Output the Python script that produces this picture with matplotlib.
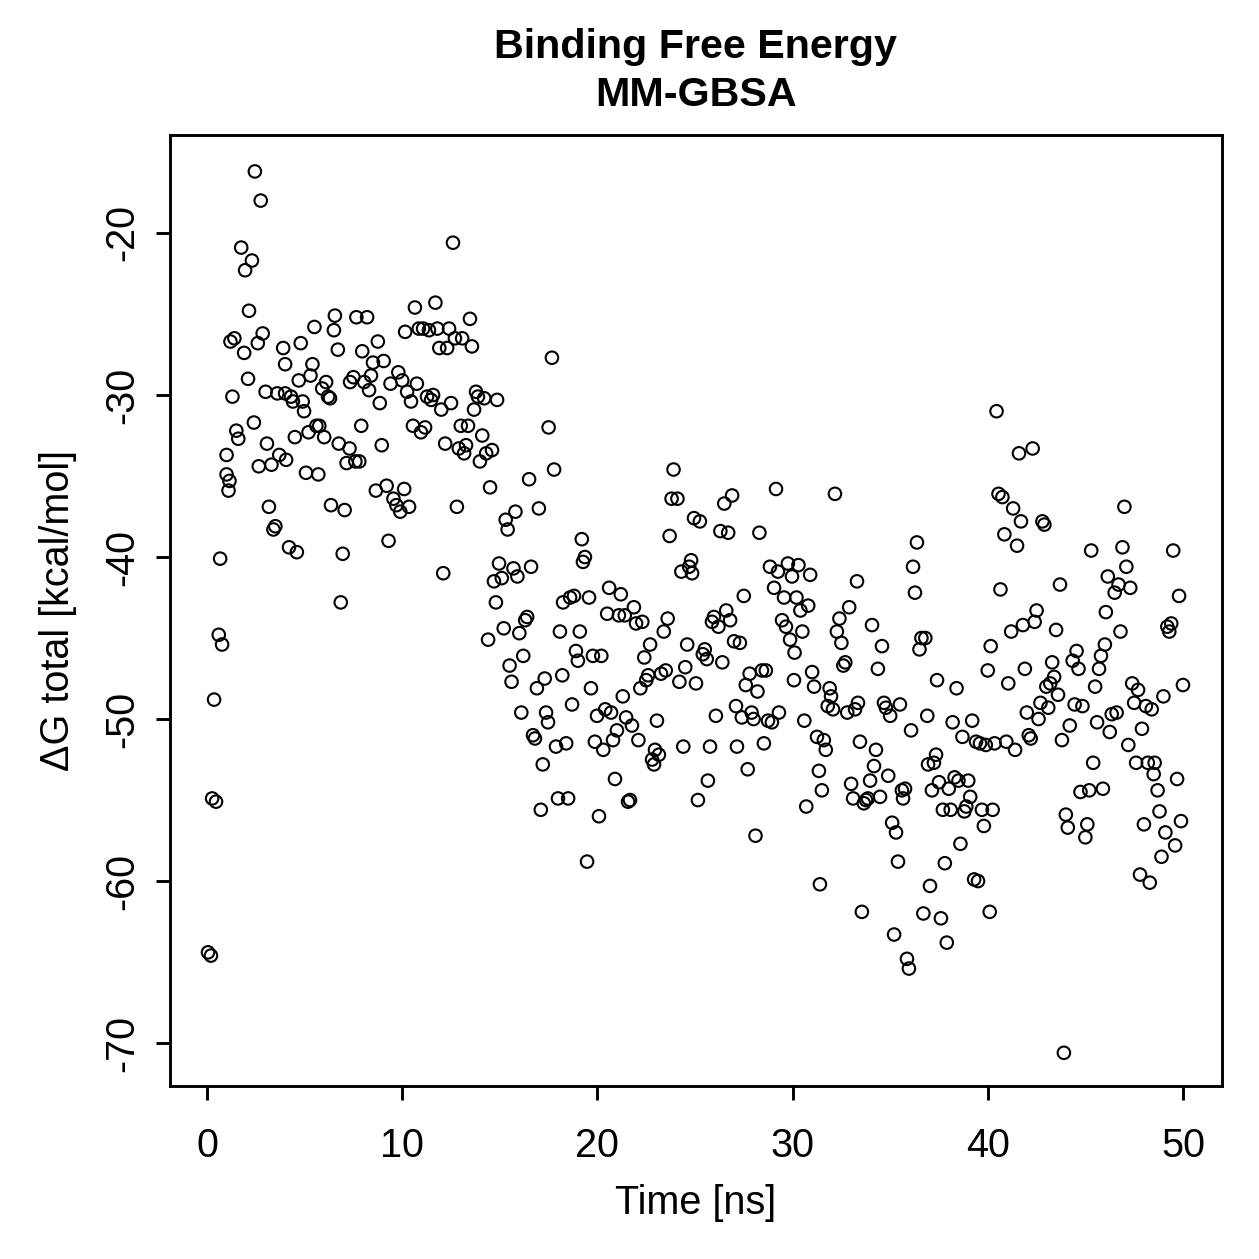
import numpy as np
import matplotlib
matplotlib.use("Agg")
import matplotlib.pyplot as plt

plt.rcParams['font.family'] = ['Liberation Sans', 'DejaVu Sans']

# time (ns) and total binding free energy (kcal/mol)
time_ns = [
    0.05, 0.2, 0.26, 0.46, 0.36, 0.6, 0.77, 0.67,
    1.0, 1.1, 1.15, 1.0, 1.2, 1.4, 1.3, 1.5, 1.6, 1.75, 1.9, 1.95,
    2.1, 2.15, 2.3, 2.4, 2.45, 2.6, 2.65, 2.75, 2.85, 3.0, 3.07, 3.17,
    3.3, 3.4, 3.5, 3.6, 3.7, 3.9, 4.0, 4.0, 4.05, 4.2, 4.3, 4.4, 4.5,
    4.6, 4.7, 4.8, 4.9, 4.97, 5.07, 5.2, 5.3, 5.4, 5.5, 5.6, 5.7, 5.75,
    5.9, 6.0, 6.1, 6.2, 6.3, 6.35, 6.5, 6.55, 6.7, 6.75, 6.85, 6.95,
    7.05, 7.15, 7.3, 7.33, 7.5, 7.6, 7.65, 7.8, 7.9, 7.95, 8.05, 8.2,
    8.3, 8.4, 8.5, 8.65, 8.75, 8.85, 8.95, 9.05, 9.2, 9.3, 9.4, 9.55,
    9.7, 9.8, 9.9, 10.0, 10.1, 10.15, 10.25, 10.35, 10.45, 10.55, 10.65,
    10.75, 10.85, 10.96, 11.07, 11.17, 11.27, 11.37, 11.48, 11.58, 11.7,
    11.8, 11.9, 12.0, 12.1, 12.2, 12.3, 12.4, 12.5, 12.6, 12.7, 12.8,
    12.9, 13.0, 13.07, 13.17, 13.27, 13.37, 13.47, 13.57, 13.68, 13.78,
    13.88, 13.98, 14.1, 14.2, 14.3, 14.4, 14.5, 14.6, 14.7, 14.8, 14.86,
    14.96, 15.1, 15.2, 15.3, 15.4, 15.5, 15.6, 15.7, 15.8, 15.9, 16.0,
    16.1, 16.2, 16.3, 16.4, 16.5, 16.6, 16.7, 16.8, 16.9, 17.0, 17.1,
    17.2, 17.3, 17.37, 17.47, 17.5, 17.67, 17.78, 17.88, 17.98, 18.08,
    18.2, 18.24, 18.4, 18.5, 18.6, 18.7, 18.8, 18.9, 19.0, 19.1, 19.2,
    19.26, 19.36, 19.47, 19.57, 19.67, 19.77, 19.87, 19.98, 20.08, 20.2,
    20.3, 20.4, 20.5, 20.6, 20.7, 20.8, 20.9, 21.0, 21.1, 21.2, 21.3,
    21.4, 21.47, 21.57, 21.67, 21.77, 21.87, 21.98, 22.1, 22.2, 22.3,
    22.4, 22.5, 22.6, 22.7, 22.8, 22.9, 22.95, 23.05, 23.15, 23.26, 23.4,
    23.5, 23.6, 23.7, 23.8, 23.9, 24.1, 24.2, 24.3, 24.4, 24.5, 24.6,
    24.7, 24.8, 24.85, 24.95, 25.05, 25.15, 25.25, 25.4, 25.5, 25.6,
    25.66, 25.77, 25.87, 25.97, 26.07, 26.2, 26.3, 26.4, 26.5, 26.6,
    26.7, 26.8, 26.9, 27.0, 27.1, 27.15, 27.3, 27.4, 27.5, 27.6, 27.7,
    27.8, 27.9, 28.0, 28.1, 28.2, 28.3, 28.43, 28.53, 28.63, 28.74,
    28.84, 28.94, 29.05, 29.15, 29.25, 29.3, 29.46, 29.56, 29.66, 29.76,
    29.87, 29.97, 30.07, 30.1, 30.2, 30.3, 30.4, 30.5, 30.6, 30.7, 30.8,
    30.9, 31.0, 31.1, 31.25, 31.35, 31.4, 31.5, 31.6, 31.7, 31.8, 31.9,
    31.97, 32.07, 32.17, 32.27, 32.4, 32.5, 32.6, 32.7, 32.8, 32.9, 33.0,
    33.1, 33.2, 33.3, 33.35, 33.45, 33.55, 33.65, 33.76, 33.86, 33.97,
    34.07, 34.17, 34.27, 34.37, 34.48, 34.58, 34.68, 34.78, 34.9, 35.0,
    35.1, 35.2, 35.3, 35.4, 35.5, 35.6, 35.66, 35.76, 35.86, 35.96,
    36.07, 36.17, 36.27, 36.37, 36.5, 36.6, 36.7, 36.8, 36.9, 36.94,
    37.04, 37.14, 37.24, 37.35, 37.4, 37.5, 37.6, 37.7, 37.8, 37.9, 38.0,
    38.1, 38.2, 38.3, 38.4, 38.5, 38.6, 38.7, 38.8, 38.9, 39.0, 39.1,
    39.2, 39.3, 39.4, 39.5, 39.6, 39.7, 39.8, 39.9, 40.0, 40.1, 40.15,
    40.25, 40.35, 40.45, 40.55, 40.65, 40.75, 40.85, 40.95, 41.05, 41.2,
    41.3, 41.4, 41.5, 41.6, 41.7, 41.8, 41.9, 42.0, 42.1, 42.2, 42.3,
    42.4, 42.5, 42.6, 42.7, 42.8, 42.9, 43.0, 43.1, 43.2, 43.3, 43.4,
    43.5, 43.6, 43.7, 43.8, 43.9, 44.0, 44.1, 44.2, 44.35, 44.45, 44.55,
    44.65, 44.75, 44.85, 45.0, 45.1, 45.2, 45.3, 45.4, 45.5, 45.6, 45.7,
    45.8, 45.9, 46.0, 46.05, 46.15, 46.25, 46.35, 46.5, 46.6, 46.7, 46.8,
    46.9, 47.0, 47.1, 47.2, 47.3, 47.4, 47.5, 47.6, 47.7, 47.8, 47.9,
    48.0, 48.1, 48.2, 48.3, 48.4, 48.5, 48.55, 48.7, 48.8, 48.9, 49.0,
    49.1, 49.2, 49.3, 49.4, 49.5, 49.6, 49.7, 49.8, 49.9, 50.0,
]

dg_total = [
    -64.4, -64.6, -54.9, -55.1, -48.8, -44.8, -45.4, -40.1,
    -34.9, -35.9, -35.3, -33.7, -26.7, -26.5, -30.1, -32.2, -32.7, -20.9, -27.4, -22.3,
    -29.0, -24.8, -21.7, -31.7, -16.2, -26.8, -34.4, -18.0, -26.2, -29.8, -33.0, -36.9,
    -34.3, -38.3, -38.1, -29.9, -33.7, -27.1, -28.1, -29.9, -34.0, -39.4, -30.1, -30.4, -32.6,
    -39.7, -29.1, -26.8, -30.4, -31.0, -34.8, -32.3, -28.8, -28.1, -25.8, -31.9, -34.9, -31.9,
    -29.6, -32.6, -29.2, -30.1, -30.2, -36.8, -26.0, -25.1, -27.2, -33.0, -42.8, -39.8,
    -37.1, -34.2, -33.3, -29.2, -28.9, -34.1, -25.2, -34.1, -31.9, -27.3, -29.2, -25.2,
    -29.7, -28.8, -28.0, -35.9, -26.7, -30.5, -33.1, -27.9, -35.6, -39.0, -29.3, -36.4,
    -36.8, -28.6, -37.2, -29.1, -35.8, -26.1, -29.8, -36.9, -30.4, -31.9, -24.6,
    -29.3, -25.9, -32.3, -25.9, -32.0, -30.1, -26.0, -30.3, -30.0, -24.3,
    -25.9, -27.1, -30.9, -41.0, -33.0, -27.1, -25.9, -30.5, -20.6, -26.5, -36.9,
    -33.3, -31.9, -26.5, -33.6, -33.1, -31.9, -25.3, -27.0, -30.9, -29.8,
    -30.1, -34.1, -32.5, -30.2, -33.6, -45.1, -35.7, -33.4, -41.5, -42.8, -30.3,
    -40.4, -41.3, -44.4, -37.7, -38.3, -46.7, -47.7, -40.7, -37.2, -41.2, -44.7,
    -49.6, -46.1, -43.9, -43.7, -35.2, -40.6, -51.0, -51.2, -48.1, -37.0, -55.6,
    -52.8, -47.5, -49.6, -50.2, -32.0, -27.7, -34.6, -51.7, -54.9, -44.6,
    -47.3, -42.8, -51.5, -54.9, -42.5, -49.1, -42.4, -45.8, -46.4, -44.6, -38.9,
    -40.3, -40.0, -58.8, -42.5, -48.1, -46.1, -51.4, -49.8, -56.0, -46.1,
    -51.9, -49.4, -43.5, -41.9, -49.6, -51.3, -53.7, -50.7, -43.6, -42.3, -48.6,
    -43.6, -49.9, -55.1, -55.0, -50.4, -43.1, -44.1, -51.3, -48.1, -44.0,
    -46.2, -47.6, -47.3, -45.4, -52.5, -52.8, -51.9, -50.1, -52.2, -47.2, -44.6,
    -47.0, -43.8, -38.7, -36.4, -34.6, -36.4, -47.7, -40.9, -51.7, -46.8, -45.4,
    -40.6, -40.2, -41.0, -37.6, -47.8, -55.0, -37.8, -46.0, -45.7, -46.3,
    -53.8, -51.7, -44.0, -43.7, -49.8, -44.3, -38.4, -46.5, -36.7, -43.3,
    -38.5, -43.9, -36.2, -45.2, -49.2, -51.7, -45.3, -49.9, -42.4, -47.9, -53.1,
    -47.2, -49.6, -50.0, -57.2, -48.3, -38.5, -47.0, -51.5, -47.0, -50.1,
    -40.6, -50.2, -41.9, -35.8, -40.9, -49.6, -43.9, -42.5, -44.3, -40.4,
    -45.1, -41.2, -47.6, -45.9, -42.5, -40.5, -43.3, -44.6, -50.1, -55.4, -43.0,
    -41.1, -47.1, -48.0, -51.1, -53.2, -60.2, -54.4, -51.3, -51.9, -49.2, -48.1,
    -48.6, -49.4, -36.1, -44.6, -43.8, -45.3, -46.7, -46.5, -49.6, -43.1, -54.0,
    -54.9, -49.4, -41.5, -49.0, -51.4, -61.9, -55.2, -55.0, -54.9, -53.8,
    -44.2, -52.9, -51.9, -46.9, -54.8, -45.5, -49.0, -49.3, -53.5, -49.8,
    -56.4, -63.3, -57.0, -58.8, -49.1, -54.4, -54.9, -54.3, -64.8, -65.4,
    -50.7, -40.6, -42.2, -39.1, -45.7, -45.0, -62.0, -45.0, -49.8, -52.8,
    -60.3, -54.4, -52.7, -52.2, -47.6, -53.9, -62.3, -55.6, -58.9, -63.8, -54.3,
    -55.6, -50.2, -53.6, -48.1, -53.8, -57.7, -51.1, -55.7, -55.4, -53.8, -54.8,
    -50.1, -59.9, -51.4, -60.0, -51.5, -55.6, -56.6, -51.6, -47.0, -61.9, -45.5,
    -55.6, -51.5, -31.0, -36.1, -42.0, -36.3, -38.6, -51.4, -47.8, -44.6,
    -37.0, -51.9, -39.3, -33.6, -37.8, -44.2, -46.9, -49.6, -51.0, -51.2, -33.3,
    -44.0, -43.3, -50.0, -49.0, -37.8, -38.0, -48.0, -49.3, -47.8, -46.5, -47.4,
    -44.5, -48.5, -41.7, -51.3, -70.6, -55.9, -56.7, -50.4, -46.4, -49.1, -45.8,
    -46.9, -54.5, -49.2, -57.3, -56.5, -54.4, -39.6, -52.7, -48.0, -50.2, -46.9,
    -46.1, -54.3, -45.4, -43.4, -41.2, -50.8, -49.7, -42.2, -49.6, -41.7, -44.6,
    -39.4, -36.9, -40.6, -51.6, -41.9, -47.8, -49.0, -52.7, -48.2, -59.6, -50.6,
    -56.5, -49.2, -52.7, -60.1, -49.4, -53.4, -52.7, -54.4, -55.7, -58.5, -48.6,
    -57.0, -44.3, -44.6, -44.1, -39.6, -57.8, -53.7, -42.4, -56.3, -47.9,
]

x_ticks = [0, 10, 20, 30, 40, 50]
y_ticks = [-70, -60, -50, -40, -30, -20]

fig = plt.figure(figsize=(1259 / 300, 1259 / 300), dpi=300)
ax = fig.add_axes([0.135, 0.1374, 0.8356, 0.7554])

ax.scatter(time_ns, dg_total, s=9, facecolors='none', edgecolors='black',
           linewidths=0.5)

ax.set_xlim(-1.9, 52.0)
ax.set_ylim(-72.65, -13.95)
ax.set_xticks(x_ticks)
ax.set_yticks(y_ticks)
ax.set_xticklabels([str(t) for t in x_ticks], fontsize=9.5)
ax.set_yticklabels([str(t) for t in y_ticks], fontsize=9.5, rotation=90,
                   va='center')
ax.tick_params(direction='out', length=3.3, width=0.7)
ax.tick_params(axis='x', pad=6.5)
ax.tick_params(axis='y', pad=3.5)
for s in ax.spines.values():
    s.set_linewidth(0.7)

fig.text(0.5528, 0.0445, 'Time [ns]', ha='center', va='center', fontsize=9.5)
fig.text(0.046, 0.515, '\u0394G total [kcal/mol]', ha='center', va='center',
         rotation=90, fontsize=9.5)
fig.text(0.5528, 0.9627, 'Binding Free Energy', ha='center', va='center',
         fontsize=9.9, fontweight='bold')
fig.text(0.5528, 0.9245, 'MM-GBSA', ha='center', va='center',
         fontsize=9.9, fontweight='bold')

plt.savefig("out.png", dpi=300)
